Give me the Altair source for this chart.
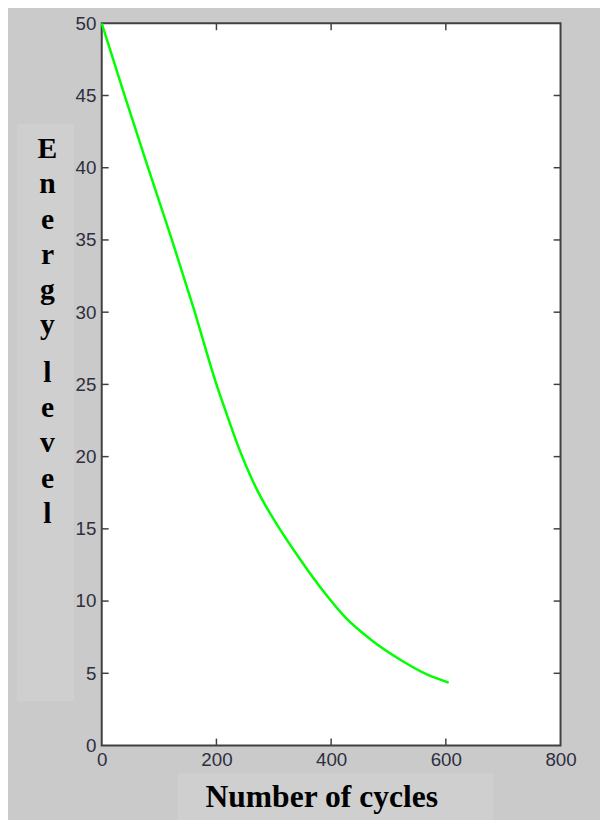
import altair as alt
import pandas as pd

# Data
cycles = [0, 40, 80, 120, 160, 200, 220, 240, 260, 280, 304, 344, 390, 424, 470, 522, 568, 605]
energy = [50, 45.0, 40.1, 35.3, 30.3, 25.0, 22.7, 20.5, 18.6, 17.0, 15.4, 13.0, 10.5, 8.9, 7.3, 5.9, 4.9, 4.35]
x_ticks = [0, 200, 400, 600, 800]
y_ticks = [0, 5, 10, 15, 20, 25, 30, 35, 40, 45, 50]
x_inner_ticks = [200, 400, 600]
y_inner_ticks = [5, 10, 15, 20, 25, 30, 35, 40, 45]
y_title_word1 = ["E", "n", "e", "r", "g", "y"]
y_title_word2 = ["l", "e", "v", "e", "l"]
x_title = "Number of cycles"

W, H = 465, 732
BG = "#cacaca"
BOX = "#cfcfcf"
FRAME = "#404040"
LABEL = "#2e2e3e"

df = pd.DataFrame({"cycles": cycles, "energy": energy})
xs = alt.Scale(domain=[0, 800], nice=False)
ys = alt.Scale(domain=[0, 50], nice=False)

xaxis = alt.Axis(values=x_ticks, domain=False, ticks=False, grid=False, labelFont="Liberation Sans",
                 labelFontSize=19, labelColor=LABEL, labelPadding=5, title=None, labelFlush=False)
yaxis = alt.Axis(values=y_ticks, domain=False, ticks=False, grid=False, labelFont="Liberation Sans",
                 labelFontSize=19, labelColor=LABEL, labelPadding=6, title=None)

# title boxes
box_y = alt.Chart(pd.DataFrame({"a": [0]})).mark_rect(color=BOX).encode(
    x=alt.value(-86), x2=alt.value(-28), y=alt.value(102), y2=alt.value(687))
box_x = alt.Chart(pd.DataFrame({"a": [0]})).mark_rect(color=BOX).encode(
    x=alt.value(77), x2=alt.value(397), y=alt.value(760), y2=alt.value(812))

line = alt.Chart(df).mark_line(color="#00ff00", strokeWidth=2.5, interpolate="monotone").encode(
    x=alt.X("cycles:Q", scale=xs, axis=xaxis),
    y=alt.Y("energy:Q", scale=ys, axis=yaxis),
)

tx = pd.DataFrame({"t": x_inner_ticks})
ty = pd.DataFrame({"t": y_inner_ticks})
tick_b = alt.Chart(tx).mark_rule(color=FRAME, strokeWidth=1.5).encode(
    x=alt.X("t:Q", scale=xs), y=alt.value(H), y2=alt.value(H - 7))
tick_t = alt.Chart(tx).mark_rule(color=FRAME, strokeWidth=1.5).encode(
    x=alt.X("t:Q", scale=xs), y=alt.value(0), y2=alt.value(7))
tick_l = alt.Chart(ty).mark_rule(color=FRAME, strokeWidth=1.5).encode(
    y=alt.Y("t:Q", scale=ys), x=alt.value(0), x2=alt.value(7))
tick_r = alt.Chart(ty).mark_rule(color=FRAME, strokeWidth=1.5).encode(
    y=alt.Y("t:Q", scale=ys), x=alt.value(W), x2=alt.value(W - 7))

tfont = dict(font="Liberation Serif", fontWeight="bold", fontSize=30, color="black",
             align="center", baseline="alphabetic", lineHeight=35.5)
t1 = alt.Chart(pd.DataFrame({"a": [0]})).mark_text(**tfont).encode(
    x=alt.value(-55), y=alt.value(137), text=alt.value(y_title_word1))
t2 = alt.Chart(pd.DataFrame({"a": [0]})).mark_text(**tfont).encode(
    x=alt.value(-55), y=alt.value(364), text=alt.value(y_title_word2))
t3 = alt.Chart(pd.DataFrame({"a": [0]})).mark_text(**dict(tfont, fontSize=32)).encode(
    x=alt.value(223), y=alt.value(794), text=alt.value(x_title))

chart = alt.layer(box_y, box_x, line, tick_b, tick_t, tick_l, tick_r, t1, t2, t3).properties(
    width=W, height=H,
    autosize=alt.AutoSizeParams(type="none"),
    padding={"left": 95, "top": 10, "right": 40, "bottom": 70},
).configure(background=BG).configure_view(fill="white", stroke=FRAME, strokeWidth=2)

chart.save("out.html", embed_options={"renderer": "svg", "actions": False})
